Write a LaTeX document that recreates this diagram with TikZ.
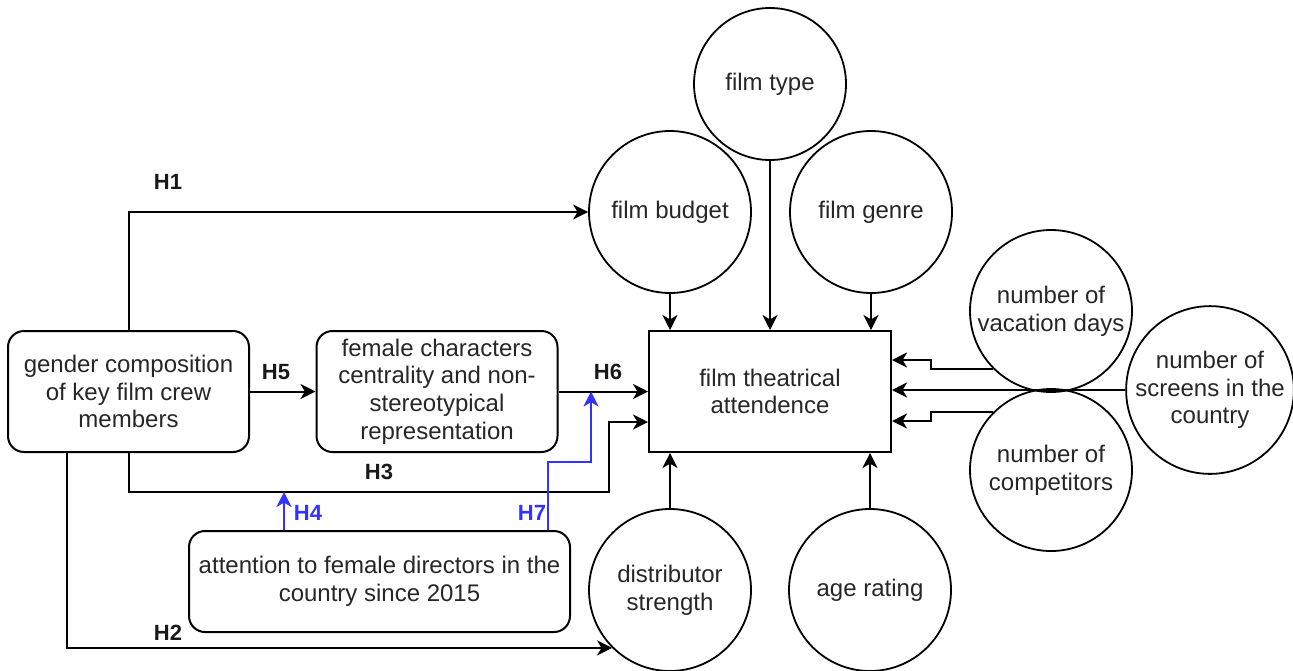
\documentclass[tikz,border=0pt]{standalone}
\usepackage{fontspec}
\setmainfont{Liberation Sans}
\usepackage{tikz}
\usetikzlibrary{arrows.meta,calc,positioning}
\definecolor{hblue}{HTML}{3333FF}
\tikzset{
  >={Stealth[length=7.5pt,width=7.5pt,inset=2.2pt]},
  txt/.style={font=\fontsize{12}{13.8}\selectfont, text=black!85, align=center},
  roundbox/.style={txt, draw, line width=1pt, rounded corners=8pt,
    minimum width=120.5pt, minimum height=60.5pt, inner sep=2pt},
  plainbox/.style={txt, draw, line width=1pt,
    minimum width=121pt, minimum height=60.5pt, inner sep=2pt},
  factor/.style={txt, draw, circle, line width=0.9pt, minimum size=81pt, inner sep=0pt},
  hyp/.style={font=\bfseries\fontsize{11}{13}\selectfont, text=black!90},
  hypblue/.style={hyp, text=hblue},
  link/.style={->, line width=1pt},
  bluelink/.style={link, hblue},
}
\begin{document}
\begin{tikzpicture}[x=0.5pt, y=-0.5pt]
\useasboundingbox (0,0) rectangle (1293,670);
% boxes
\node[roundbox] (gender) at (128.5,391.5) {gender composition\\of key film crew\\members};
\node[roundbox] (female) at (437,391.5) {female characters\\centrality and non-\\stereotypical\\representation};
\node[plainbox] (attend) at (770,391.5) {film theatrical\\attendence};
\node[roundbox, minimum width=190.5pt, minimum height=50.5pt] (attention) at (379.5,581.5)
  {attention to female directors in the\\country since 2015};
% control variables
\node[factor, minimum size=76pt] (filmtype) at (770,84) {film type};
\node[factor] (budget) at (670,212) {film budget};
\node[factor] (genre) at (871,212) {film genre};
\node[factor] (vacation) at (1051,311) {number of\\vacation days};
\node[factor] (screens) at (1210,390) {number of\\screens in the\\country};
\node[factor] (competitors) at (1051,470) {number of\\competitors};
\node[factor] (distributor) at (670,590) {distributor\\strength};
\node[factor] (agerating) at (870,590) {age rating};
% bend points
\coordinate (h3bend) at (609,492);
\coordinate (attin) at ($(attend.west)+(0,30.5)$);
\coordinate (h2start) at ($(gender.south west)+(60,0)$);
\coordinate (h4foot) at ($(attention.north west)+(96,0)$);
\coordinate (h7foot) at ($(attention.north west)+(360,0)$);
\coordinate (h7knee) at (591,462);
\coordinate (vacjog) at (931,360);
\coordinate (compjog) at (931,421);
% hypotheses
\draw[link] (gender.north) |- (budget.west);
\draw[link] (gender.east) -- (female.west);
\draw[link] (female.east) -- (attend.west);
\draw[link] (gender.south) |- (h3bend) |- (attin);
\draw[link] (h2start) |- (distributor.225);
\draw[bluelink] (h4foot) -- (h4foot |- h3bend);
\draw[bluelink] (h7foot) |- (h7knee) -- (h7knee |- attend.west);
% controls into attendance
\draw[link] (budget.south) -- (budget.south |- attend.north);
\draw[link] (filmtype.south) -- (attend.north);
\draw[link] (genre.south) -- (genre.south |- attend.north);
\draw[link] (distributor.north) -- (distributor.north |- attend.south);
\draw[link] (agerating.north) -- (agerating.north |- attend.south);
\draw[link] (vacation.225) -| (vacjog) -- (vacjog -| attend.east);
\draw[link] (screens.west) -- (screens.west -| attend.east);
\draw[link] (competitors.135) -| (compjog) -- (compjog -| attend.east);
% labels
\node[hyp] (lh1) at (168,182) {H1};
\node[hyp] (lh5) at (276,372) {H5};
\node[hyp] (lh6) at (608,372) {H6};
\node[hyp] (lh3) at (379,472) {H3};
\node[hyp] (lh2) at (168,633) {H2};
\node[hypblue] (lh4) at (308,513) {H4};
\node[hypblue] (lh7) at (532,513) {H7};
\end{tikzpicture}
\end{document}
